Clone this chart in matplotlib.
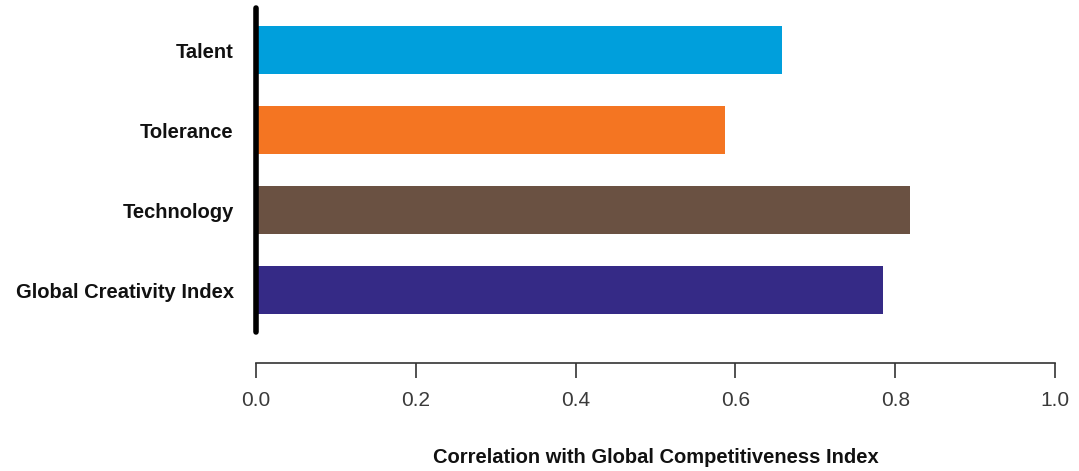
import numpy as np
import matplotlib.pyplot as plt

plt.rcParams['font.family'] = ['Liberation Sans', 'DejaVu Sans']

categories = ['Talent', 'Tolerance', 'Technology', 'Global Creativity Index']
values = [0.658, 0.587, 0.818, 0.785]
colors = ['#009fdc', '#f47522', '#6a5142', '#352a86']
xticks = [0.0, 0.2, 0.4, 0.6, 0.8, 1.0]

fig = plt.figure(figsize=(10.79, 4.71), dpi=100)
ax = fig.add_axes([256 / 1079, 1 - 363 / 471, 799 / 1079, 363 / 471])

pos = np.arange(len(categories))
ax.barh(pos, values, height=0.6, color=colors)

# thick vertical base line
ax.plot([0, 0], [-0.525, 3.525], color='black', lw=4, solid_capstyle='round', clip_on=False, zorder=5)

ax.set_xlim(0, 1.0)
ax.set_ylim(3.9125, -0.625)
ax.set_yticks(pos)
ax.set_yticklabels(categories, fontsize=14.5, fontweight='bold', color='#111111')
ax.tick_params(axis='y', length=0, pad=16)
ax.set_xticks(xticks)
ax.set_xticklabels(['%.1f' % t for t in xticks], fontsize=15, color='#3a3a3a')
ax.tick_params(axis='x', length=11, width=1.2, color='#333333', pad=9.5)

for side in ['left', 'right', 'top']:
    ax.spines[side].set_visible(False)
ax.spines['bottom'].set_color('#333333')
ax.spines['bottom'].set_linewidth(1.2)

ax.set_xlabel('Correlation with Global Competitiveness Index', fontsize=14.5, fontweight='bold',
              color='#111111', labelpad=27)

fig.savefig('out.png', dpi=100)
